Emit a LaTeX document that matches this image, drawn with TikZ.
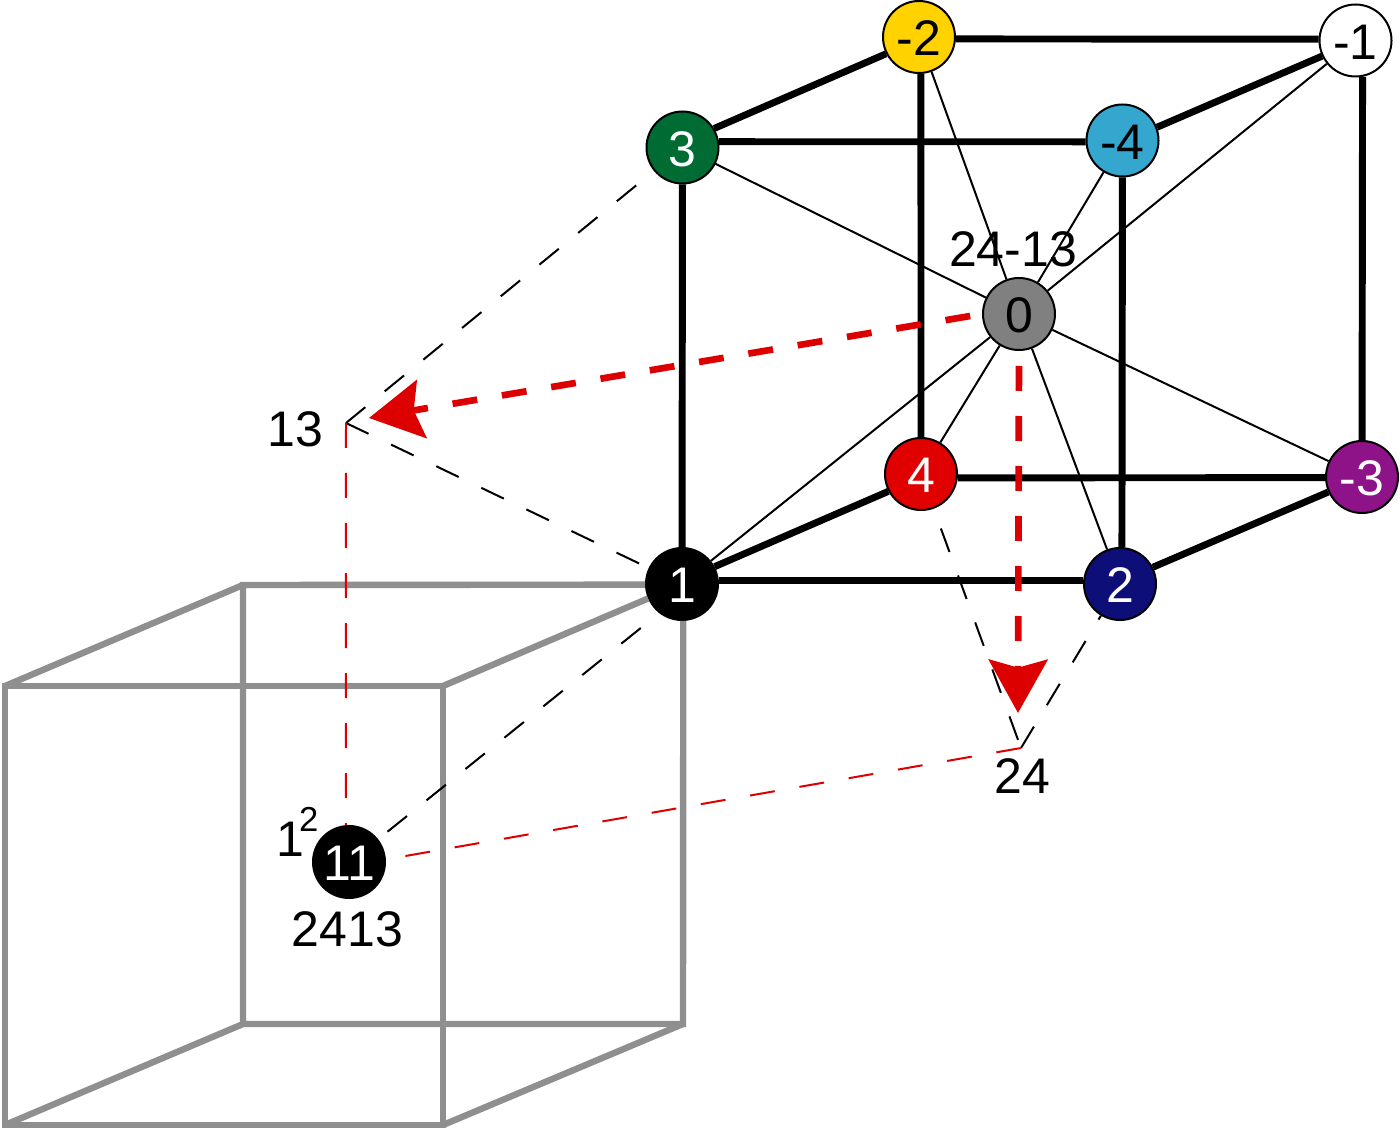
\documentclass[tikz,border=0pt]{standalone}
\usepackage{fontspec}
\setmainfont{Liberation Sans}
\usepackage{xcolor}
\usetikzlibrary{arrows.meta}
\definecolor{vgold}{HTML}{FFD200}
\definecolor{vgreen}{HTML}{006B33}
\definecolor{vcyan}{HTML}{35A7CE}
\definecolor{vgrey}{HTML}{808080}
\definecolor{vred}{HTML}{E00000}
\definecolor{vpurple}{HTML}{8E1388}
\definecolor{vnavy}{HTML}{0E0E78}
\definecolor{lred}{HTML}{DD0000}
\definecolor{cgrey}{HTML}{8F8F8F}

\begin{document}
\begin{tikzpicture}[
  x=0.75pt, y=-0.75pt,
  font=\fontsize{37.5}{40}\selectfont,
  vert/.style={circle,draw=black,line width=1.5pt,minimum size=54pt,inner sep=0pt,
               text height=28pt,text depth=0pt},
  wvert/.style={vert,text=white},
  cube/.style={draw=black,line width=5.2pt},
  gcube/.style={draw=cgrey,line width=4.8pt},
  spoke/.style={draw=black,line width=1.5pt},
  dsh/.style={draw=black,line width=1.5pt,dash pattern=on 18.75pt off 18.75pt},
  rdsh/.style={dsh,draw=lred},
  arr/.style={draw=lred,line width=5pt,dash pattern=on 18.75pt off 18.75pt,
              -{Stealth[length=40pt,width=44pt,inset=6pt]}},
  lbl/.style={inner sep=0pt}]

  \useasboundingbox (0,0) rectangle (1400,1130);

  \node[vert,fill=vgold] (nm2) at (919,37) {-2};
  \node[vert,fill=white] (nm1) at (1355.5,40.5) {-1};
  \node[wvert,fill=vgreen] (n3) at (682.5,147.5) {3};
  \node[vert,fill=vcyan] (nm4) at (1122.5,140.5) {-4};
  \node[vert,fill=vgrey] (n0) at (1019,314) {0};
  \node[wvert,fill=vred] (n4) at (921,474) {4};
  \node[wvert,fill=vpurple] (nm3) at (1362,477) {-3};
  \node[wvert,fill=black] (n1) at (682,584) {1};
  \node[wvert,fill=vnavy] (n2) at (1120,584) {2};
  \node[wvert,fill=black] (n11) at (349,862) {11};

  \coordinate (p13) at (346,423);
  \coordinate (p24) at (1021,748);
  \coordinate (tip13) at (369,418);
  \coordinate (tip24) at (1018,713);

  \node[lbl] (l2413m) at (1013,249) {24-13};
  \node[lbl] (l13) at (295.5,429) {13};
  \node[lbl] (l24) at (1022,776) {24};
  \node[lbl] (l2413) at (347.5,929) {2413};
  \node[lbl,anchor=base west] (lone) at (276,856) {1\kern-3.75pt\raisebox{18.75pt}{\fontsize{26}{28}\selectfont 2}};

  \coordinate (ga) at (5,686);
  \coordinate (gb) at (443,686);
  \coordinate (gc) at (443,1125);
  \coordinate (gd) at (5,1125);
  \coordinate (ge) at (243,585);
  \coordinate (gf) at (243,1024);
  \coordinate (gg) at (683,1024);

  \draw[gcube,line join=miter] (ga) -- (gb) -- (gc) -- (gd) -- cycle;
  \draw[gcube,line join=miter] (n1.181.5) -- (ge) -- (gf) -- (gg) -- (n1.-88.5);
  \draw[gcube] (ga) -- (ge);
  \draw[gcube] (gb) -- (n1);
  \draw[gcube] (gc) -- (gg);
  \draw[gcube] (gd) -- (gf);

  \draw[cube] (nm2.-3) -- (nm1.178);
  \draw[cube] (n3.9) -- (nm4.182);
  \draw[cube] (n4.-6) -- (nm3.181);
  \draw[cube] (n1.6) -- (n2.174);
  \draw[cube] (n3) -- (n1);
  \draw[cube] (nm2.-87) -- (n4);
  \draw[cube] (nm4) -- (n2.87);
  \draw[cube] (nm1.-79) -- (nm3);
  \draw[cube] (n3.31.6) -- (nm2.207);
  \draw[cube] (n1.28.6) -- (n4.208.6);
  \draw[cube] (nm4.21.6) -- (nm1.205.8);
  \draw[cube] (n2.27.4) -- (nm3.204.4);

  \draw[spoke] (n0) -- (nm2);
  \draw[spoke] (n0) -- (nm1);
  \draw[spoke] (n0) -- (n3);
  \draw[spoke] (n0) -- (nm4);
  \draw[spoke] (n0) -- (n4);
  \draw[spoke] (n0) -- (n1);
  \draw[spoke] (n0) -- (n2);
  \draw[spoke] (n0) -- (nm3);

  \draw[dsh] (p13) -- (n3);
  \draw[dsh] (p13) -- (n1);
  \draw[dsh] (p24) -- (n2);
  \draw[dsh,dash phase=31pt] (p24) -- (n4);
  \draw[dsh,shorten <=9pt] (n11.38) -- (n1.232);
  \draw[rdsh] (p13) -- (n11.95);
  \draw[rdsh] (p24) -- (n11.4);

  \draw[arr,shorten <=9pt] (n0.west) -- (tip13);
  \draw[arr,shorten <=11.25pt] (n0.south) -- (tip24);
\end{tikzpicture}
\end{document}
